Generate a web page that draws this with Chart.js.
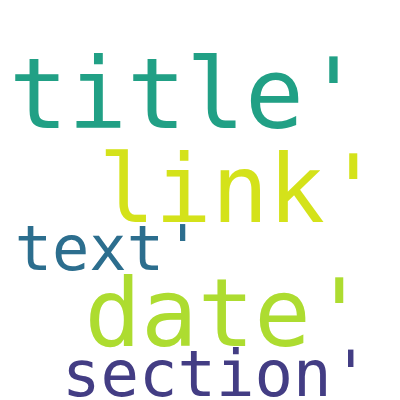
<!DOCTYPE html>
<html>
<head>
<meta charset="utf-8">
<script src="https://cdn.jsdelivr.net/npm/chart.js@4"></script>
<style>
  html, body { margin: 0; padding: 0; background: #fff; }
  #wrap { width: 400px; height: 400px; }
</style>
</head>
<body>
<div id="wrap"><canvas id="c"></canvas></div>
<script>
// word cloud: word, weight (font px), anchor point (centre x, baseline y), colour
const words = ["title'", "link'", "date'", "text'", "section'"];
const sizes = [98, 94, 94, 62, 64];
const xs = [186, 240, 226, 108, 216];
const ys = [128, 222, 346, 270, 396];
const colors = ["#21a085", "#d4e21a", "#addc30", "#2c6e8e", "#433d84"];

const wordPlugin = {
  id: "words",
  afterDatasetsDraw(chart) {
    const { ctx, scales } = chart;
    ctx.save();
    ctx.textAlign = "center";
    ctx.textBaseline = "alphabetic";
    words.forEach((w, i) => {
      ctx.font = `${sizes[i]}px 'DejaVu Sans Mono', monospace`;
      ctx.fillStyle = colors[i];
      ctx.fillText(w, scales.x.getPixelForValue(xs[i]), scales.y.getPixelForValue(ys[i]));
    });
    ctx.restore();
  },
};

new Chart(document.getElementById("c"), {
  type: "scatter",
  data: {
    datasets: [{
      data: words.map((w, i) => ({ x: xs[i], y: ys[i] })),
      pointRadius: 0,
    }],
  },
  options: {
    responsive: true,
    maintainAspectRatio: false,
    animation: false,
    layout: { padding: 0 },
    plugins: { legend: { display: false }, tooltip: { enabled: false } },
    scales: {
      x: { display: false, min: 0, max: 400 },
      y: { display: false, min: 0, max: 400, reverse: true },
    },
  },
  plugins: [wordPlugin],
});
</script>
</body>
</html>
